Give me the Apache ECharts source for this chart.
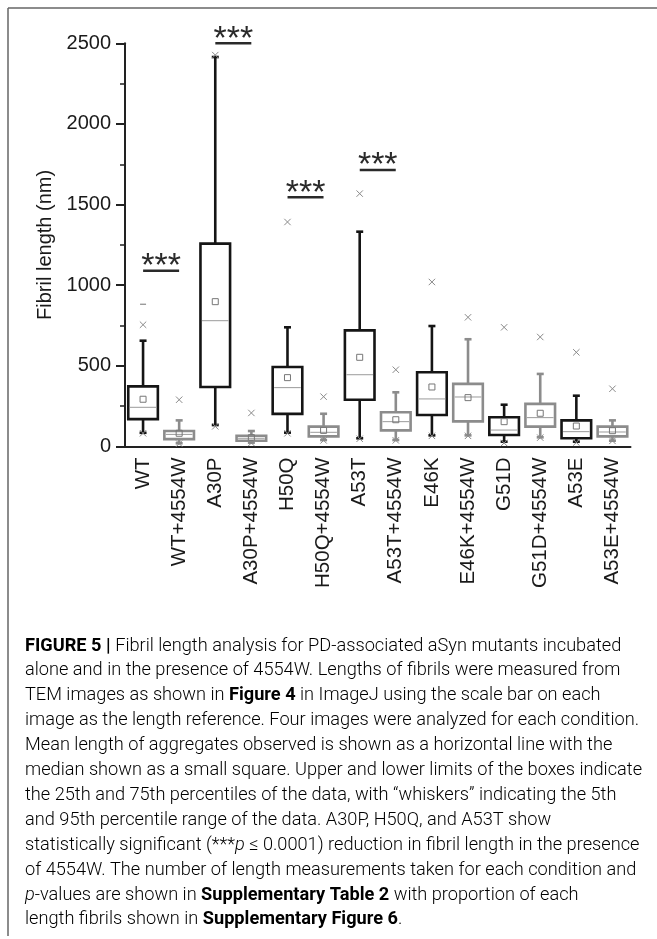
<!DOCTYPE html>
<html><head><meta charset="utf-8">
<script src="https://cdn.jsdelivr.net/npm/echarts@6/dist/echarts.min.js"></script>
<style>html,body{margin:0;padding:0;background:#fff}#c{width:657px;height:939px}</style>
</head><body><div id="c"></div>
<script>
// ---- data ----
var categories = ['WT','WT+4554W','A30P','A30P+4554W','H50Q','H50Q+4554W','A53T','A53T+4554W','E46K','E46K+4554W','G51D','G51D+4554W','A53E','A53E+4554W'];
var p5       = [85, 20, 133, 24, 86, 40, 51, 40, 69, 69, 30, 57, 30, 36];
var q1       = [170, 46, 369, 36, 202, 63, 290, 100, 195, 156, 71, 123, 51, 63];
var meanLine = [243, 75, 780, 51, 365, 88, 445, 154, 295, 307, 102, 179, 92, 90];
var q3       = [373, 96, 1258, 67, 493, 123, 720, 212, 460, 388, 181, 264, 162, 123];
var p95      = [656, 162, 2415, 96, 739, 203, 1332, 336, 747, 665, 259, 450, 315, 162];
var medianSq = [293, 82, 898, 55, 427, 100, 553, 166, 369, 303, 154, 206, 127, 98];
var upperX   = [755, 290, 2427, 208, 1392, 309, 1568, 476, 1020, 801, 739, 679, 584, 358];
var lowerX   = [82, 18, 125, 22, 82, 38, 48, 38, 66, 66, 22, 55, 25, 35];
var maxDash  = [882, null, null, null, null, null, null, null, null, null, null, null, null, null];
var sigLeft  = ['WT','A30P','H50Q','A53T'];
var sigValue = [1090, 2500, 1545, 1714];
var yTicks   = [0, 500, 1000, 1500, 2000, 2500];
var yName    = 'Fibril length (nm)';
var captionLines = [
  [['b','FIGURE 5 | '],['n','Fibril length analysis for PD-associated aSyn mutants incubated']],
  [['n','alone and in the presence of 4554W. Lengths of fibrils were measured from']],
  [['n','TEM images as shown in '],['b','Figure 4'],['n',' in ImageJ using the scale bar on each']],
  [['n','image as the length reference. Four images were analyzed for each condition.']],
  [['n','Mean length of aggregates observed is shown as a horizontal line with the']],
  [['n','median shown as a small square. Upper and lower limits of the boxes indicate']],
  [['n','the 25th and 75th percentiles of the data, with \u201cwhiskers\u201d indicating the 5th']],
  [['n','and 95th percentile range of the data. A30P, H50Q, and A53T show']],
  [['n','statistically significant (***'],['i','p'],['n',' \u2264 0.0001) reduction in fibril length in the presence']],
  [['n','of 4554W. The number of length measurements taken for each condition and']],
  [['i','p'],['n','-values are shown in '],['b','Supplementary Table 2'],['n',' with proportion of each']],
  [['n','length fibrils shown in '],['b','Supplementary Figure 6'],['n','.']]
];

// ---- build ----
var boxData = categories.map(function(c,i){return [i,p5[i],q1[i],meanLine[i],q3[i],p95[i],medianSq[i]];});
var markData = categories.map(function(c,i){return [i,upperX[i],lowerX[i],maxDash[i]==null?'-':maxDash[i]];});
var sigData = sigLeft.map(function(c,i){var k=categories.indexOf(c);return [k,sigValue[i]];});

function isGray(i){return categories[i].indexOf('+4554W')>=0;}

var capFont = 'Roboto,"Liberation Sans",sans-serif';
var axFont = '"Liberation Sans",Arial,Helvetica,sans-serif';
var cs = 18.2;
var rich = {
  n:{fontFamily:capFont,fontSize:cs,fontWeight:300,color:'#2a2a2a'},
  b:{fontFamily:capFont,fontSize:cs,fontWeight:'bold',color:'#111'},
  i:{fontFamily:capFont,fontSize:cs,fontWeight:300,fontStyle:'italic',color:'#2a2a2a'}
};
var graphics = [
  {type:'line',shape:{x1:8,y1:8,x2:657,y2:8},style:{stroke:'#666',lineWidth:1.5},silent:true},
  {type:'line',shape:{x1:8,y1:8,x2:8,y2:936},style:{stroke:'#666',lineWidth:1.5},silent:true}
];
captionLines.forEach(function(line,li){
  var txt = line.map(function(s){return '{'+s[0]+'|'+s[1]+'}';}).join('');
  graphics.push({type:'text',left:25,top:637+li*24.9,style:{text:txt,rich:rich,font:cs+'px '+capFont}});
});

var chart = echarts.init(document.getElementById('c'),null,{renderer:'canvas'});
chart.setOption({
  animation:false,
  backgroundColor:'#fff',
  grid:{left:125,right:26.5,top:43.3,bottom:492.5},
  xAxis:{type:'category',data:categories,boundaryGap:true,
    axisLine:{lineStyle:{color:'#222',width:2}},
    axisTick:{alignWithLabel:true,length:9,lineStyle:{color:'#222',width:2}},
    axisLabel:{rotate:90,interval:0,margin:11,fontSize:20.5,color:'#1a1a1a',fontFamily:axFont}},
  yAxis:{type:'value',min:0,max:2500,interval:500,
    name:yName,nameLocation:'middle',nameGap:64,nameRotate:90,
    nameTextStyle:{fontSize:20,color:'#1a1a1a',fontFamily:axFont},
    axisLine:{show:true,lineStyle:{color:'#222',width:2}},
    axisTick:{show:true,length:9,lineStyle:{color:'#222',width:2}},
    minorTick:{show:true,splitNumber:2,length:5,lineStyle:{color:'#222',width:1.5}},
    splitLine:{show:false},
    axisLabel:{margin:14,fontSize:20,color:'#1a1a1a',fontFamily:axFont,
      formatter:function(v){return yTicks.indexOf(v)>=0?String(v):'';}}},
  graphic:graphics,
  series:[
    {type:'custom',data:boxData,encode:{x:0,y:[1,5]},z:3,
     renderItem:function(params,api){
       var i=api.value(0);
       var col=isGray(i)?'#8c8c8c':'#151515';
       var bw=api.size([1,0])[0]*0.82;
       var pLo=api.coord([i,api.value(1)]),pQ1=api.coord([i,api.value(2)]),pM=api.coord([i,api.value(3)]),
           pQ3=api.coord([i,api.value(4)]),pHi=api.coord([i,api.value(5)]),pSq=api.coord([i,api.value(6)]);
       var x=pQ1[0], cw=3.5, lw=2.6;
       return {type:'group',children:[
         {type:'line',shape:{x1:x,y1:pQ3[1],x2:x,y2:pHi[1]},style:{stroke:col,lineWidth:lw}},
         {type:'line',shape:{x1:x,y1:pQ1[1],x2:x,y2:pLo[1]},style:{stroke:col,lineWidth:lw}},
         {type:'line',shape:{x1:x-cw,y1:pHi[1],x2:x+cw,y2:pHi[1]},style:{stroke:col,lineWidth:lw}},
         {type:'line',shape:{x1:x-cw,y1:pLo[1],x2:x+cw,y2:pLo[1]},style:{stroke:col,lineWidth:lw}},
         {type:'rect',shape:{x:x-bw/2,y:pQ3[1],width:bw,height:pQ1[1]-pQ3[1]},style:{fill:'#fff',stroke:col,lineWidth:lw}},
         {type:'line',shape:{x1:x-bw/2+1.5,y1:pM[1],x2:x+bw/2-1.5,y2:pM[1]},style:{stroke:'#9a9a9a',lineWidth:1}},
         {type:'rect',shape:{x:x-3,y:pSq[1]-3,width:6,height:6},style:{fill:'none',stroke:'#777',lineWidth:1}}
       ]};
     }},
    {type:'custom',data:markData,encode:{x:0,y:[1,2]},z:4,
     renderItem:function(params,api){
       var i=api.value(0), ch=[], s=3.2, col='#8a8a8a';
       [1,2].forEach(function(k){
         var p=api.coord([i,api.value(k)]);
         ch.push({type:'line',shape:{x1:p[0]-s,y1:p[1]-s,x2:p[0]+s,y2:p[1]+s},style:{stroke:col,lineWidth:1}});
         ch.push({type:'line',shape:{x1:p[0]-s,y1:p[1]+s,x2:p[0]+s,y2:p[1]-s},style:{stroke:col,lineWidth:1}});
       });
       var d=api.value(3);
       if(!isNaN(d)){var q=api.coord([i,d]);ch.push({type:'line',shape:{x1:q[0]-3,y1:q[1],x2:q[0]+3,y2:q[1]},style:{stroke:col,lineWidth:1.2}});}
       return {type:'group',children:ch};
     }},
    {type:'custom',data:sigData,encode:{x:0,y:1},z:5,
     renderItem:function(params,api){
       var k=api.value(0);
       var a=api.coord([k,api.value(1)]), b=api.coord([k+1,api.value(1)]);
       var cx=(a[0]+b[0])/2, y=a[1];
       return {type:'group',children:[
         {type:'line',shape:{x1:cx-18,y1:y,x2:cx+18,y2:y},style:{stroke:'#2a2a2a',lineWidth:2.5}},
         {type:'text',style:{text:'***',x:cx,y:y-4,textAlign:'center',textVerticalAlign:'middle',
           font:'34px '+axFont,fill:'#2a2a2a'}}
       ]};
     }}
  ]
});
</script></body></html>
